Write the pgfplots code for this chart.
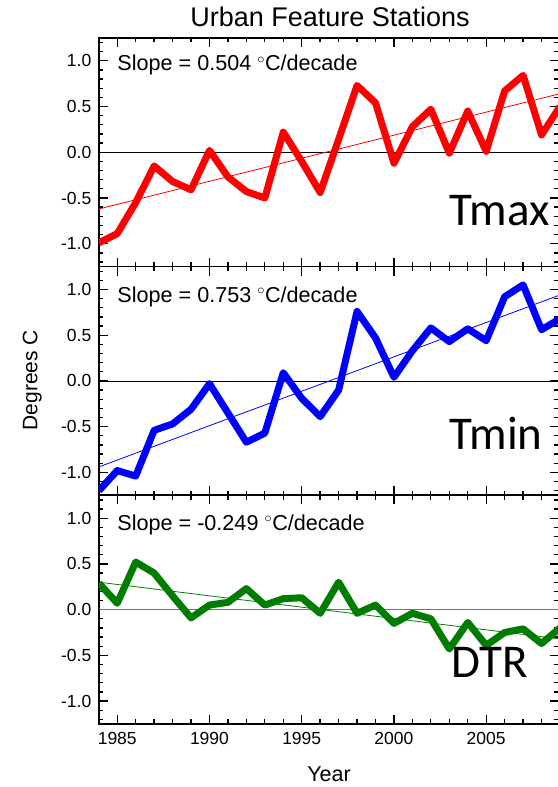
\documentclass[border=0pt]{standalone}
\usepackage{fontspec}
\setmainfont{Liberation Sans}
\newfontfamily\calibri{Carlito}
\usepackage{pgfplots}
\usepackage{pgfplotstable}
\pgfplotsset{compat=1.18}

\definecolor{tred}{RGB}{255,0,0}
\definecolor{tblue}{RGB}{0,0,255}
\definecolor{tgreen}{RGB}{0,125,0}

\pgfplotsset{
 panel/.style={
   scale only axis, width=459.7pt, height=228.7pt,
   xmin=1984, xmax=2008.92, ymin=-1.25, ymax=1.25,
   axis line style={line width=1.6pt},
   xtick={1985,1990,1995,2000,2005},
   minor xtick={1984,...,2008},
   ytick={-1,-0.5,0,0.5,1},
   minor ytick={-1.2,-1.1,-0.9,-0.8,-0.7,-0.6,-0.4,-0.3,-0.2,-0.1,0.1,0.2,0.3,0.4,0.6,0.7,0.8,0.9,1.1,1.2},
   yticklabels={-1.0,-0.5,0.0,0.5,1.0},
   major tick length=9pt, minor tick length=4.5pt,
   tick style={line width=1.3pt, black},
   tick label style={font=\fontsize{17.5}{20}\selectfont},
   yticklabel style={xshift=-4pt},
   xticklabels={},
   clip=true,
 },
}
\tikzset{
 slope/.style={anchor=base west, inner sep=0pt, font=\fontsize{21.6}{24}\selectfont},
 big/.style={anchor=base west, inner sep=0pt, font=\calibri\fontsize{47}{50}\selectfont},
}

\pgfplotstableread{
year tmax tmin dtr
1984 -0.99 -1.20 0.29
1985 -0.89 -0.98 0.07
1986 -0.55 -1.04 0.52
1987 -0.15 -0.54 0.40
1988 -0.32 -0.47 0.15
1989 -0.41 -0.31 -0.09
1990 0.02 -0.03 0.05
1991 -0.27 -0.35 0.08
1992 -0.43 -0.67 0.23
1993 -0.50 -0.57 0.05
1994 0.22 0.09 0.12
1995 -0.10 -0.19 0.13
1996 -0.44 -0.39 -0.04
1997 0.14 -0.10 0.30
1998 0.73 0.76 -0.04
1999 0.54 0.47 0.05
2000 -0.12 0.04 -0.15
2001 0.28 0.33 -0.04
2002 0.47 0.58 -0.10
2003 -0.01 0.43 -0.43
2004 0.45 0.57 -0.14
2005 0.01 0.44 -0.39
2006 0.67 0.92 -0.25
2007 0.84 1.05 -0.21
2008 0.19 0.56 -0.37
2009 0.50 0.68 -0.20
}\data

\begin{document}
\begin{tikzpicture}[x=1pt,y=1pt]
\path[use as bounding box] (0,0) rectangle (557,787);

% Panel 1: Tmax
\begin{axis}[panel, at={(98.8pt,520.4pt)}, anchor=south west]
\addplot[black, line width=0.8pt] coordinates {(1983,0) (2010,0)};
\addplot[tred, line width=7pt, line join=round] table[x=year,y=tmax] {\data};
\addplot[tred, line width=0.8pt] coordinates {(1984,-0.62) (2009,0.64)};
\node[slope] at (axis cs:1985,0.89) {Slope = 0.504 $^{\circ}$C/decade};
\node[big] at (axis cs:2003.0,-0.796) {Tmax};
\end{axis}

% Panel 2: Tmin
\begin{axis}[panel, at={(98.8pt,291.7pt)}, anchor=south west]
\addplot[black, line width=0.8pt] coordinates {(1983,0) (2010,0)};
\addplot[tblue, line width=7pt, line join=round] table[x=year,y=tmin] {\data};
\addplot[tblue, line width=0.8pt] coordinates {(1984,-0.94) (2009,0.94)};
\node[slope] at (axis cs:1985,0.86) {Slope = 0.753 $^{\circ}$C/decade};
\node[big] at (axis cs:2003.0,-0.753) {Tmin};
\end{axis}

% Panel 3: DTR
\begin{axis}[panel, at={(98.8pt,63pt)}, anchor=south west,
  xticklabels={1985,1990,1995,2000,2005},
  xticklabel style={yshift=-5pt}]
\addplot[black!55, line width=0.8pt] coordinates {(1983,0) (2010,0)};
\addplot[tgreen, line width=7pt, line join=round] table[x=year,y=dtr] {\data};
\addplot[tgreen, line width=0.8pt] coordinates {(1984,0.30) (2009,-0.32)};
\node[slope] at (axis cs:1985,0.87) {Slope = -0.249 $^{\circ}$C/decade};
\node[big] at (axis cs:2003.1,-0.738) {DTR};
\end{axis}

\node[anchor=base, inner sep=0pt, font=\fontsize{27}{30}\selectfont] at (330,760.4) {Urban Feature Stations};
\node[anchor=base, inner sep=0pt, rotate=90, font=\fontsize{21}{24}\selectfont] at (37.3,407) {Degrees C};
\node[anchor=base, inner sep=0pt, font=\fontsize{21.5}{24}\selectfont] at (329,5.3) {Year};
\end{tikzpicture}
\end{document}
